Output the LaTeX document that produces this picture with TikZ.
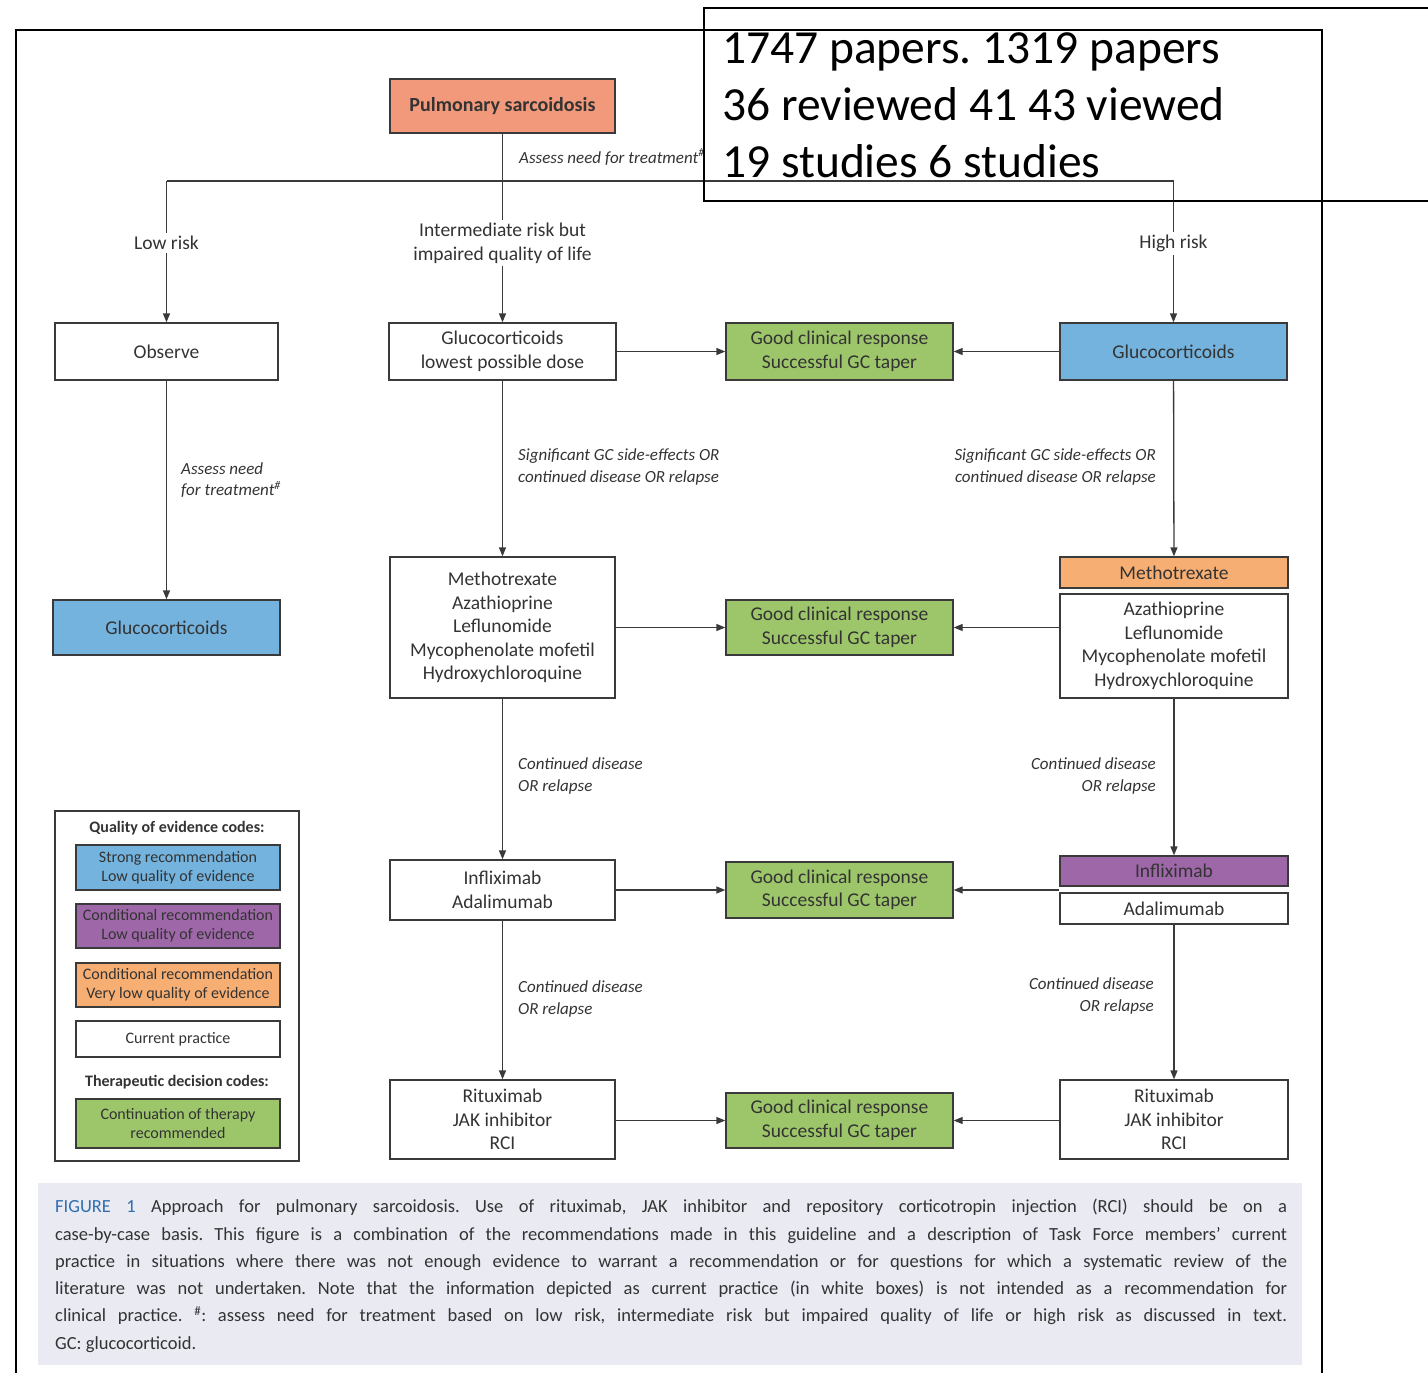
\documentclass[tikz,border=0pt]{standalone}
\usepackage{fontspec}
\setmainfont{Carlito}
\usetikzlibrary{arrows.meta}
\definecolor{txt}{HTML}{333333}
\definecolor{line}{HTML}{3A3A3A}
\definecolor{salmon}{HTML}{F2997B}
\definecolor{gcblue}{HTML}{74B3DE}
\definecolor{okgreen}{HTML}{9DC66B}
\definecolor{mtxorange}{HTML}{F7AE72}
\definecolor{purp}{HTML}{9E67A8}
\definecolor{capbg}{HTML}{E9EAF2}
\definecolor{figblue}{HTML}{2F6EB0}
\newcommand\fdiag{\fontsize{19.5pt}{23.5pt}\selectfont}
\newcommand\ftitle{\fontsize{20pt}{24pt}\selectfont}
\newcommand\flab{\fontsize{17pt}{21.5pt}\selectfont}
\newcommand\fleg{\fontsize{16pt}{19pt}\selectfont}
\newcommand\fcap{\fontsize{18.5pt}{27.3pt}\selectfont}
\newcommand\fbig{\fontsize{47.5pt}{57pt}\selectfont}
\frenchspacing
\begin{document}
\begin{tikzpicture}[x=1pt,y=-1pt,
  box/.style={draw=line, line width=1.3pt, text=txt, align=center, inner sep=2pt, font=\fdiag},
  legbox/.style={draw=line, line width=1.3pt, text=txt, align=center, inner sep=1pt, font=\fleg, minimum width=204pt},
  arr/.style={-{Triangle[length=9pt,width=7pt]}, line width=1.3pt, draw=line},
  conn/.style={line width=1.3pt, draw=line},
  lab/.style={font=\flab\itshape, text=txt, inner sep=0pt},
  risk/.style={font=\fdiag, text=txt, fill=white, align=center, inner sep=3pt}]
\useasboundingbox (0,0) rectangle (1428,1373);

% outer frame
\draw[line width=1.8pt] (16,1373) -- (16,30) -- (1322,30) -- (1322,1373);

% caption panel
\fill[capbg] (38,1183) rectangle (1302,1365);
\node[anchor=north west, inner sep=0pt, text width=1232pt, align=justify, text=txt, font=\fcap]
  (caption) at (55,1199) {\frenchspacing\hyphenpenalty=10000\exhyphenpenalty=10000
  {\color{figblue}FIGURE 1} Approach for pulmonary sarcoidosis. Use of rituximab, JAK inhibitor and repository corticotropin injection (RCI) should be on a\linebreak
  case-by-case basis. This figure is a combination of the recommendations made in this guideline and a description of Task Force members' current\linebreak
  practice in situations where there was not enough evidence to warrant a recommendation or for questions for which a systematic review of the\linebreak
  literature was not undertaken. Note that the information depicted as current practice (in white boxes) is not intended as a recommendation for\linebreak
  clinical practice. \textsuperscript{\#}: assess need for treatment based on low risk, intermediate risk but impaired quality of life or high risk as discussed in text.\linebreak
  GC: glucocorticoid.\par};

% flowchart boxes
\node[box, fill=salmon, font=\ftitle\bfseries, minimum width=225pt, minimum height=54pt] (ps) at (502.5,106) {Pulmonary sarcoidosis};
\node[box, minimum width=223pt, minimum height=57pt] (obs) at (166.5,351.5) {Observe};
\node[box, minimum width=227pt, minimum height=57pt] (gcl) at (502.5,351.5) {Glucocorticoids\\lowest possible dose};
\node[box, fill=okgreen, minimum width=227pt, minimum height=57pt] (g1) at (839.5,351.5) {Good clinical response\\Successful GC taper};
\node[box, fill=gcblue, minimum width=227pt, minimum height=57pt] (gcr) at (1173.5,351.5) {Glucocorticoids};

\node[box, fill=gcblue, minimum width=227pt, minimum height=55pt] (gcleft) at (166.5,627.5) {Glucocorticoids};
\node[box, minimum width=225pt, minimum height=141pt] (mtx) at (502.5,627.5) {Methotrexate\\Azathioprine\\Leflunomide\\Mycophenolate mofetil\\Hydroxychloroquine};
\node[box, fill=okgreen, minimum width=227pt, minimum height=55pt] (g2) at (839.5,627.5) {Good clinical response\\Successful GC taper};
\node[box, fill=mtxorange, minimum width=228pt, minimum height=31pt] (mtxr) at (1174,572.5) {Methotrexate};
\node[box, minimum width=228pt, minimum height=104pt] (azr) at (1174,646) {Azathioprine\\Leflunomide\\Mycophenolate mofetil\\Hydroxychloroquine};

\node[box, minimum width=225pt, minimum height=60pt] (inf) at (502.5,890) {Infliximab\\Adalimumab};
\node[box, fill=okgreen, minimum width=227pt, minimum height=56pt] (g3) at (839.5,890) {Good clinical response\\Successful GC taper};
\node[box, fill=purp, minimum width=228pt, minimum height=30pt] (infr) at (1174,871) {Infliximab};
\node[box, minimum width=228pt, minimum height=31pt] (adr) at (1174,908.5) {Adalimumab};

\node[box, minimum width=225pt, minimum height=79pt] (rit) at (502.5,1119.5) {Rituximab\\JAK inhibitor\\RCI};
\node[box, fill=okgreen, minimum width=227pt, minimum height=55pt] (g4) at (839.5,1120.5) {Good clinical response\\Successful GC taper};
\node[box, minimum width=228pt, minimum height=79pt] (ritr) at (1174,1119.5) {Rituximab\\JAK inhibitor\\RCI};

% risk split
\coordinate (jl) at (166.5,181);
\coordinate (jr) at (1173.5,181);
\draw[conn] (jl) -- (jr);
\draw[arr] (jl) -- node[risk, pos=0.44] (lowrisk) {Low risk} (obs);
\draw[arr] (ps) -- node[risk, pos=0.58] (midrisk) {Intermediate risk but\\impaired quality of life} (gcl);
\draw[arr] (jr) -- node[risk, pos=0.44] (highrisk) {High risk} (gcr);
\node[lab, anchor=west] (assess1) at (519,157) {Assess need for treatment\textsuperscript{\#}};

% left column
\draw[arr] (obs) -- (gcleft);
\node[lab, anchor=west, align=left] (assess2) at (181,480) {Assess need\\for treatment\textsuperscript{\#}};

% centre column
\draw[arr] (gcl) -- (mtx);
\node[lab, anchor=west, align=left] (sig1) at (518,467) {Significant GC side-effects OR\\continued disease OR relapse};
\draw[arr] (mtx) -- (inf);
\node[lab, anchor=west, align=left] (cd1) at (518,776) {Continued disease\\OR relapse};
\draw[arr] (inf) -- (rit);
\node[lab, anchor=west, align=left] (cd2) at (518,999) {Continued disease\\OR relapse};

% right column
\draw[arr] (gcr) -- (mtxr);
\node[lab, anchor=east, align=right] (sig2) at (1156,467) {Significant GC side-effects OR\\continued disease OR relapse};
\draw[arr] (azr) -- (infr);
\node[lab, anchor=east, align=right] (cd3) at (1156,776) {Continued disease\\OR relapse};
\draw[arr] (adr) -- (ritr);
\node[lab, anchor=east, align=right] (cd4) at (1154,996) {Continued disease\\OR relapse};

% response arrows
\draw[arr] (gcl) -- (g1);
\draw[arr] (gcr) -- (g1);
\draw[arr] (mtx.east |- g2.west) -- (g2);
\draw[arr] (azr.west |- g2.east) -- (g2);
\draw[arr] (inf.east |- g3.west) -- (g3);
\draw[arr] (infr.west |- g3.east) -- (g3);
\draw[arr] (rit.east |- g4.west) -- (g4);
\draw[arr] (ritr.west |- g4.east) -- (g4);

% legend
\node[draw=line, line width=1.3pt, minimum width=244pt, minimum height=350pt] (legend) at (177,986) {};
\node[font=\fleg\bfseries, text=txt] (legt1) at (177,828) {Quality of evidence codes:};
\node[legbox, fill=gcblue, minimum height=45pt] (lg1) at (178,867.5) {Strong recommendation\\Low quality of evidence};
\node[legbox, fill=purp, minimum height=44pt] (lg2) at (178,926) {Conditional recommendation\\Low quality of evidence};
\node[legbox, fill=mtxorange, minimum height=44pt] (lg3) at (178,985) {Conditional recommendation\\Very low quality of evidence};
\node[legbox, minimum height=36pt] (lg4) at (178,1039) {Current practice};
\node[font=\fleg\bfseries, text=txt] (legt2) at (177,1082) {Therapeutic decision codes:};
\node[legbox, fill=okgreen, minimum height=49pt] (lg5) at (178,1123.5) {Continuation of therapy\\recommended};

% paper counts panel
\draw[line width=1.3pt] (1428,8) -- (704,8) -- (704,201) -- (1428,201);
\node[anchor=base west, inner sep=0pt, font=\fbig] (c1) at (722,63) {1747 papers. 1319 papers};
\node[anchor=base west, inner sep=0pt, font=\fbig] (c2) at (722,120) {36 reviewed 41 43 viewed};
\node[anchor=base west, inner sep=0pt, font=\fbig] (c3) at (722,177) {19 studies 6 studies};
\end{tikzpicture}
\end{document}
